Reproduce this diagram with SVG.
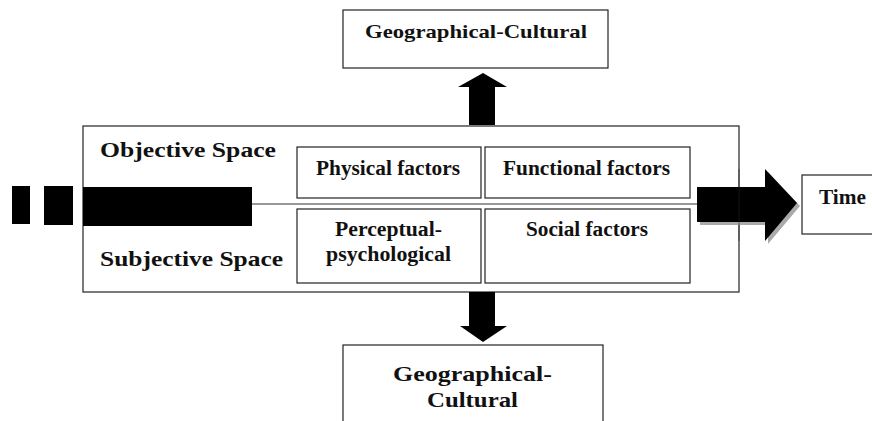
<svg xmlns="http://www.w3.org/2000/svg" width="872" height="421" viewBox="0 0 872 421">
<style>
.box{fill:#fff;stroke:#222;stroke-width:1.2}
.blk{fill:#000}
.t{font-family:"Liberation Serif","Times New Roman",serif;font-weight:bold;fill:#111}
.s19{font-size:19.5px}
.s20{font-size:20px}
.s22{font-size:22px}
</style>
<rect width="872" height="421" fill="#fff"/>
<g id="main">
<rect class="box" x="83" y="126" width="656" height="166"/>
<text class="t s22" x="100" y="157" textLength="176" lengthAdjust="spacingAndGlyphs">Objective Space</text>
<text class="t s22" x="100" y="266" textLength="183" lengthAdjust="spacingAndGlyphs">Subjective Space</text>
</g>
<g id="physical"><rect class="box" x="297" y="147" width="184" height="51"/><text class="t s20" x="316" y="175" textLength="144" lengthAdjust="spacingAndGlyphs">Physical factors</text></g>
<g id="functional"><rect class="box" x="485" y="147" width="205" height="51"/><text class="t s20" x="503" y="175" textLength="167" lengthAdjust="spacingAndGlyphs">Functional factors</text></g>
<g id="perceptual"><rect class="box" x="297" y="209" width="184" height="74"/><text class="t s20" x="335" y="236" textLength="107" lengthAdjust="spacingAndGlyphs">Perceptual-</text><text class="t s20" x="326" y="261" textLength="125" lengthAdjust="spacingAndGlyphs">psychological</text></g>
<g id="social"><rect class="box" x="485" y="209" width="205" height="74"/><text class="t s20" x="526" y="236" textLength="122" lengthAdjust="spacingAndGlyphs">Social factors</text></g>
<g id="geo-top"><rect class="box" x="343" y="10" width="265" height="58"/><text class="t s19" x="365" y="37.5" textLength="222" lengthAdjust="spacingAndGlyphs">Geographical-Cultural</text></g>
<g id="geo-bottom"><rect class="box" x="343" y="345" width="260" height="90"/><text class="t s22" x="393" y="381" textLength="159" lengthAdjust="spacingAndGlyphs">Geographical-</text><text class="t s22" x="427" y="407" textLength="91" lengthAdjust="spacingAndGlyphs">Cultural</text></g>
<g id="time"><rect class="box" x="802" y="175" width="80" height="59"/><text class="t s20" x="819" y="204" textLength="47" lengthAdjust="spacingAndGlyphs">Time</text></g>
<g id="connectors">
<line x1="252" y1="204" x2="739" y2="204" stroke="#333" stroke-width="1.2"/>
<rect class="blk" x="12" y="186" width="18" height="38"/>
<rect class="blk" x="44" y="186" width="29" height="39"/>
<rect class="blk" x="83" y="187" width="169" height="39"/>
<polygon points="469,125 469,87 458,87 483,73 507,87 495,87 495,125" class="blk"/>
<polygon points="469,292 469,326 460,326 483,342 507,326 495,326 495,292" class="blk"/>
<polygon points="700,190 768,190 768,172 800,206 768,244 768,225 700,225" fill="#aaa"/>
<polygon points="697,187 765,187 765,169 797,203 765,241 765,222 697,222" class="blk"/>
<line x1="739" y1="169" x2="739" y2="241" stroke="#222" stroke-width="1" opacity="0.6"/>
</g>
</svg>
